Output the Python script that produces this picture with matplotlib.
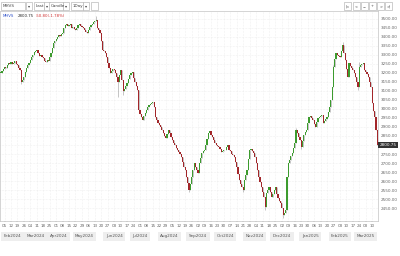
import numpy as np
import pandas as pd
import matplotlib
matplotlib.use('Agg')
import matplotlib.pyplot as plt
import matplotlib.transforms as mtransforms
from matplotlib.patches import Rectangle

symbol = 'MHVS'
last_price = 2800.75
change_txt = '-50.80(-1.78%)'
start_date = '2024-01-31'

# daily closes, month by month
closes_jan24 = [3200]
closes_feb24 = [3210, 3222, 3235, 3228, 3246, 3256, 3250, 3262, 3248, 3258, 3266, 3252, 3244, 3230,
                3217, 3150, 3162, 3178, 3205, 3226, 3244]
closes_mar24 = [3258, 3272, 3290, 3300, 3315, 3322, 3328, 3311, 3296, 3302, 3290, 3283, 3268, 3261,
                3272, 3266, 3290, 3311, 3340, 3367, 3378]
closes_apr24 = [3390, 3400, 3412, 3405, 3418, 3422, 3450, 3467, 3474, 3460, 3467, 3470, 3452, 3456,
                3444, 3439, 3452, 3465, 3472, 3462, 3455, 3450]
closes_may24 = [3438, 3430, 3422, 3440, 3455, 3467, 3474, 3482, 3490, 3495, 3450, 3440, 3422, 3380,
                3328, 3320, 3311, 3290, 3256, 3230, 3200, 3212, 3222]
closes_jun24 = [3217, 3200, 3175, 3150, 3190, 3217, 3160, 3100, 3110, 3128, 3144, 3165, 3188, 3200,
                3206, 3172, 3150, 3128, 3106, 2994]
closes_jul24 = [2970, 2955, 2939, 2960, 2978, 2995, 3011, 3020, 3028, 3035, 3039, 3011, 2956, 2940,
                2922, 2910, 2900, 2885, 2867, 2850, 2839, 2860, 2883]
closes_aug24 = [2865, 2844, 2826, 2811, 2798, 2785, 2772, 2760, 2748, 2733, 2705, 2678, 2661, 2622,
                2590, 2550, 2585, 2622, 2660, 2700, 2680, 2660]
closes_sep24 = [2644, 2700, 2730, 2756, 2765, 2772, 2800, 2835, 2867, 2875, 2858, 2844, 2825, 2811,
                2800, 2795, 2789, 2775, 2761, 2768, 2770]
closes_oct24 = [2772, 2788, 2800, 2772, 2765, 2752, 2742, 2733, 2705, 2678, 2640, 2606, 2585, 2566,
                2550, 2606, 2635, 2661, 2720, 2772, 2780, 2768, 2756]
closes_nov24 = [2735, 2700, 2660, 2622, 2595, 2567, 2540, 2511, 2456, 2533, 2550, 2567, 2540, 2511,
                2530, 2550, 2567, 2530, 2506, 2490, 2478]
closes_dec24 = [2450, 2410, 2425, 2439, 2622, 2700, 2715, 2738, 2756, 2785, 2811, 2883, 2865, 2845,
                2828, 2789, 2822, 2856, 2870, 2883, 2920, 2956]
closes_jan25 = [2962, 2948, 2939, 2918, 2900, 2928, 2950, 2958, 2962, 2967, 2922, 2935, 2945, 2956,
                2985, 3011, 3050, 3122, 3233, 3275, 3311, 3300, 3295]
closes_feb25 = [3289, 3320, 3356, 3310, 3272, 3220, 3178, 3256, 3240, 3228, 3215, 3200, 3178, 3150,
                3122, 3233, 3245, 3252, 3256, 3217]
closes_mar25 = [3205, 3192, 3178, 3150, 3122, 3033, 2990, 2956, 2883, 2800.75]

# a few visible wicks (bar index -> price)
wick_highs = {74: 3515, 229: 2895, 258: 3245, 265: 3372, 278: 3262}
wick_lows = {16: 3138, 91: 3067, 95: 3078, 107: 2978, 146: 2538, 188: 2538, 205: 2440,
             219: 2392, 233: 2775, 277: 3108}

closes = np.array(closes_jan24 + closes_feb24 + closes_mar24 + closes_apr24 + closes_may24 +
                  closes_jun24 + closes_jul24 + closes_aug24 + closes_sep24 + closes_oct24 +
                  closes_nov24 + closes_dec24 + closes_jan25 + closes_feb25 + closes_mar25, dtype=float)
opens = np.concatenate([[closes[0]], closes[:-1]])
highs = np.maximum(opens, closes)
lows = np.minimum(opens, closes)
for i, v in wick_highs.items():
    highs[i] = v
for i, v in wick_lows.items():
    lows[i] = v
dates = pd.bdate_range(start_date, periods=len(closes))
n = len(closes)
idx = np.arange(n)

W, H = 400, 256
fig = plt.figure(figsize=(4, 2.56), dpi=100)
fig.patch.set_facecolor('white')

def px(x, y):
    return x / W, 1 - y / H

# chart area
left, right, top, bottom = 0, 378, 11, 221
ax = fig.add_axes([left / W, 1 - bottom / H, (right - left) / W, (bottom - top) / H])
ax.set_facecolor('white')

up = closes >= opens
col_up, col_dn = '#3c9b2e', '#a3262a'
colors = np.where(up, col_up, col_dn)
ax.vlines(idx, lows, highs, color='#9a9a9a', linewidth=0.4, zorder=2)
body = np.maximum(np.abs(closes - opens), 4)
ax.bar(idx, body, bottom=np.minimum(opens, closes), width=0.9, color=colors,
       linewidth=0, zorder=3)

ax.set_xlim(-0.5, n - 0.5)
ax.set_ylim(2378, 3544)

# y axis on the right
yt = np.arange(2450, 3501, 50)
ax.yaxis.tick_right()
ax.set_yticks(yt)
ax.set_yticklabels(['' if v == 2800 else f'{v:.2f}' for v in yt])
ax.tick_params(axis='y', labelsize=3, colors='#666666', length=0, pad=2)

# weekly day ticks
mondays = [i for i, d in enumerate(dates) if d.weekday() == 0]
ax.set_xticks(mondays)
ax.set_xticklabels([dates[i].strftime('%d') for i in mondays])
ax.tick_params(axis='x', labelsize=3, colors='#666666', length=1, width=0.3, pad=1)

ax.grid(True, color='#e4e4e4', linewidth=0.4, linestyle=':')
ax.set_axisbelow(True)
for s in ax.spines.values():
    s.set_color('#c4c4c4')
    s.set_linewidth(0.5)

# month labels
trans = mtransforms.blended_transform_factory(ax.transData, ax.transAxes)
month_starts = [i for i in range(1, n) if dates[i].month != dates[i - 1].month]
prev = -100
for i in month_starts:
    pos = max(i, 9, prev + 18)
    prev = pos
    ax.text(pos, -0.072, dates[i].strftime('%b%Y'), transform=trans, fontsize=3,
            color='#555555', ha='center', va='center', clip_on=False,
            bbox=dict(boxstyle='square,pad=0.6', facecolor='#eeeeee', edgecolor='none'))

# last price tag
ax.text(1.004, last_price, f'{last_price:.2f}', transform=mtransforms.blended_transform_factory(
    ax.transAxes, ax.transData), fontsize=3, color='white', ha='left', va='center',
        clip_on=False, zorder=10,
        bbox=dict(boxstyle='square,pad=0.3', facecolor='#333333', edgecolor='none'))

# legend line at top left
ax.text(0.006, 0.985, symbol, transform=ax.transAxes, fontsize=2.8, color='#3355cc',
        ha='left', va='top')
ax.text(0.046, 0.985, f'{last_price:.2f}', transform=ax.transAxes, fontsize=2.8, color='#222222',
        ha='left', va='top')
ax.text(0.094, 0.985, change_txt, transform=ax.transAxes, fontsize=2.8, color='#d03030',
        ha='left', va='top')

# toolbar
def box(x0, y0, x1, y1, label='', fs=3):
    fx0, fy1 = px(x0, y1)
    fig.add_artist(Rectangle((fx0, fy1), (x1 - x0) / W, (y1 - y0) / H, transform=fig.transFigure,
                             facecolor='white', edgecolor='#aaaaaa', linewidth=0.4))
    if label:
        cx, cy = px((x0 + x1) / 2, (y0 + y1) / 2)
        fig.text(cx if len(label) < 3 else px(x0 + 2, 0)[0], cy, label, fontsize=fs,
                 color='#444444', ha='center' if len(label) < 3 else 'left', va='center')

box(1, 2, 25, 10, 'MHVS')
box(26, 2, 32, 10, '▾')
box(34, 2, 44, 10, 'Last')
box(44, 2, 50, 10, '▾')
box(49, 2, 63, 10, 'Candle')
box(63, 2, 69, 10, '▾')
box(71, 2, 83, 10, '1Day')
box(83, 2, 89, 10, '▾')
box(91, 2, 98, 10, '')
for x0, lab in zip([344, 353, 361, 369, 377, 385], ['|<', '<', '−', '+', '>', '>|']):
    box(x0, 2, x0 + 7, 10, lab, fs=2.5)

fig.savefig('out.png', dpi=100, facecolor='white')
